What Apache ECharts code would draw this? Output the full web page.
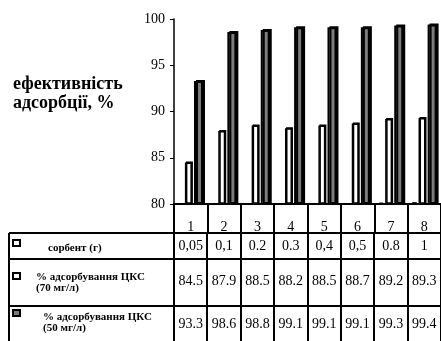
<!DOCTYPE html>
<html>
<head>
<meta charset="utf-8">
<script src="https://cdn.jsdelivr.net/npm/echarts@6/dist/echarts.min.js"></script>
<style>
  html, body { margin: 0; padding: 0; background: #fff; }
  #chart { width: 441px; height: 341px; }
</style>
</head>
<body>
<div id="chart"></div>
<script>
// Sample numbers 1..8
const categories = ['1', '2', '3', '4', '5', '6', '7', '8'];
// Sorbent mass, as printed in the table (g)
const sorbentText = ['0,05', '0,1', '0.2', '0.3', '0,4', '0,5', '0.8', '1'];
const sorbentMass = sorbentText.map(s => parseFloat(s.replace(',', '.')));
// Adsorption of CKS, %, initial concentration 70 mg/l
const adsorption70 = [84.5, 87.9, 88.5, 88.2, 88.5, 88.7, 89.2, 89.3];
// Adsorption of CKS, %, initial concentration 50 mg/l
const adsorption50 = [93.3, 98.6, 98.8, 99.1, 99.1, 99.1, 99.3, 99.4];
// Efficiency axis ticks
const yTicks = { min: 80, max: 100, step: 5 };

const rowNames = [
  ['сорбент (г)'],
  ['% адсорбування ЦКС', '(70 мг/л)'],
  ['% адсорбування ЦКС', '(50 мг/л)']
];

const SERIF = '"Liberation Serif", "DejaVu Serif", serif';

const chart = echarts.init(document.getElementById('chart'), null, { renderer: 'canvas' });

const option = {
  animation: false,
  backgroundColor: '#fff',
  grid: { left: 174, top: 19, width: 272, height: 185, containLabel: false },
  xAxis: {
    type: 'category',
    data: categories,
    axisLine: { lineStyle: { color: '#000', width: 2 } },
    axisTick: { show: true, length: 29, interval: 0, lineStyle: { color: '#000', width: 2 } },
    axisLabel: { margin: 16, fontFamily: SERIF, fontSize: 14, color: '#000', interval: 0 },
    splitLine: { show: false }
  },
  yAxis: [
    {
      type: 'value',
      min: yTicks.min, max: yTicks.max, interval: yTicks.step,
      axisLine: { show: true, lineStyle: { color: '#000', width: 1.5 } },
      axisTick: { show: true, length: 4, lineStyle: { color: '#000', width: 1 } },
      axisLabel: { margin: 9, fontFamily: SERIF, fontSize: 14, color: '#000' },
      splitLine: { show: false }
    },
    { type: 'value', min: 0, max: 100, show: false }
  ],
  series: [
    {
      name: 'сорбент (г)', type: 'bar', yAxisIndex: 1,
      data: sorbentMass, barWidth: 5, barGap: '30%', barMinHeight: 1,
      itemStyle: { color: '#fff', borderColor: '#000', borderWidth: 1 }
    },
    {
      name: '% адсорбування ЦКС (70 мг/л)', type: 'bar',
      data: adsorption70, barWidth: 7, barGap: '30%',
      itemStyle: {
        color: '#fff', borderColor: '#000', borderWidth: 1.5,
        shadowColor: '#000', shadowOffsetX: 1, shadowOffsetY: -1, shadowBlur: 0
      }
    },
    {
      name: '% адсорбування ЦКС (50 мг/л)', type: 'bar',
      data: adsorption50, barWidth: 9, barGap: '30%',
      itemStyle: {
        color: '#7c7c7c', borderColor: '#000', borderWidth: 2,
        shadowColor: '#000', shadowOffsetX: 2, shadowOffsetY: -1, shadowBlur: 0
      }
    }
  ]
};
chart.setOption(option);

// Data table under the chart, aligned to the category bands
const c0 = chart.convertToPixel({ xAxisIndex: 0 }, 0);
const band = chart.convertToPixel({ xAxisIndex: 0 }, 1) - c0;
const rowLines = [233, 259, 306];
const rowValueY = [246, 281, 324];
const tableLeft = 9, tableBottom = 345, tableRight = 450;
const rowValues = [sorbentText, adsorption70.map(v => v.toFixed(1)), adsorption50.map(v => v.toFixed(1))];

const g = [];
const line = (x1, y1, x2, y2) => g.push({
  type: 'line', shape: { x1, y1, x2, y2 },
  style: { stroke: '#000', lineWidth: 2 }, z: 10
});
rowLines.forEach(y => line(tableLeft, y, tableRight, y));
line(tableLeft, rowLines[0], tableLeft, tableBottom);
for (let i = 0; i <= categories.length; i++) {
  const xb = Math.round(c0 - band / 2 + i * band);
  line(xb, rowLines[0], xb, tableBottom);
}
rowValues.forEach((vals, r) => {
  vals.forEach((t, i) => g.push({
    type: 'text', z: 11,
    style: {
      text: t, x: c0 + i * band, y: rowValueY[r],
      textAlign: 'center', textVerticalAlign: 'middle',
      font: '14px ' + SERIF, fill: '#000'
    }
  }));
});

// Row headers with legend keys
const keyFill = ['#fff', '#fff', '#7c7c7c'];
const keyY = [240, 273, 310];
const labelX = [48, 36, 43];
const labelY = [248, 277, 317];
rowNames.forEach((lines, r) => {
  g.push({
    type: 'rect', z: 11,
    shape: { x: 13, y: keyY[r], width: 7, height: 6 },
    style: { fill: keyFill[r], stroke: '#000', lineWidth: 2 }
  });
  lines.forEach((t, k) => g.push({
    type: 'text', z: 11,
    style: {
      text: t, x: labelX[r], y: labelY[r] + k * 11,
      textAlign: 'left', textVerticalAlign: 'middle',
      font: 'bold 11px ' + SERIF, fill: '#000'
    }
  }));
});

// Axis title on the left
['ефективність', 'адсорбції, %'].forEach((t, k) => g.push({
  type: 'text', z: 11,
  style: {
    text: t, x: 13, y: 84 + k * 19,
    textAlign: 'left', textVerticalAlign: 'middle',
    font: 'bold 18px ' + SERIF, fill: '#000'
  }
}));

chart.setOption({ graphic: g });
</script>
</body>
</html>
